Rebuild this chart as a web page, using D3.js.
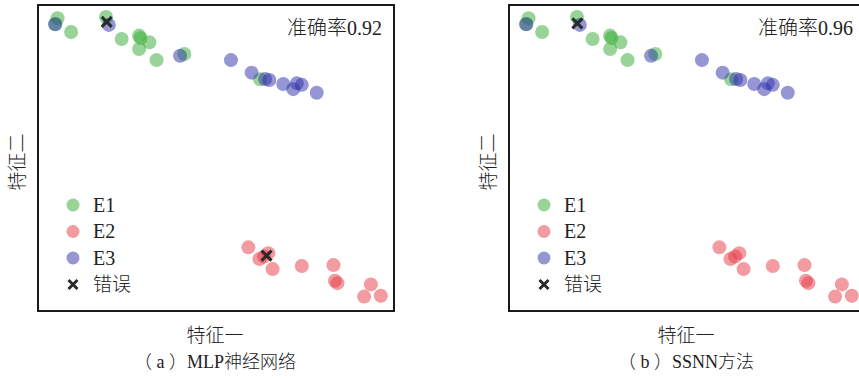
<!DOCTYPE html>
<html lang="en">
<head>
<meta charset="utf-8">
<script src="https://cdn.jsdelivr.net/npm/d3@7/dist/d3.min.js"></script>
<style>
  html, body { margin: 0; padding: 0; background: #fff; }
  svg { display: block; }
  .lat { font-family: "Liberation Serif", "DejaVu Serif", serif; }
  .cjk { font-family: "Noto Sans CJK SC", sans-serif; font-weight: 300; }
</style>
</head>
<body>
<svg id="chart" width="859" height="378"></svg>
<script>
// Two-dimensional feature embedding of the three classes (shared by both panels)
const e1X = [0.55, 0.49, 0.93, 1.91, 2.35, 2.84, 2.88, 3.13, 2.84, 3.33, 4.11, 6.24];
const e1Y = [9.57, 9.38, 9.12, 9.61, 8.89, 9.00, 8.92, 8.78, 8.56, 8.20, 8.40, 7.57];

const e2X = [5.91, 6.22, 6.47, 6.35, 6.59, 7.41, 8.30, 8.34, 8.41, 9.35, 9.16, 9.63];
const e2Y = [2.08, 1.70, 1.89, 1.78, 1.37, 1.47, 1.50, 0.99, 0.91, 0.87, 0.47, 0.50];

const e3X = [0.48, 1.99, 3.99, 5.42, 6.00, 6.38, 6.50, 6.89, 7.27, 7.41, 7.17, 7.83];
const e3Y = [9.37, 9.35, 8.34, 8.20, 7.79, 7.58, 7.55, 7.42, 7.44, 7.39, 7.25, 7.13];

// Misclassified samples per method
const errMlpX = [1.93, 6.42];
const errMlpY = [9.45, 1.81];
const errSsnnX = [1.92];
const errSsnnY = [9.40];

const panelCaptions = ["（ a ）MLP神经网络", "（ b ）SSNN方法"];
const panelAccuracy = ["准确率0.92", "准确率0.96"];
const classNames = ["E1", "E2", "E3"];
const errorName = "错误";
const xLabel = "特征一";
const yLabel = "特征二";

const classColors = ["rgb(50,170,50)", "rgb(230,55,65)", "rgb(45,45,170)"];

const svg = d3.select("#chart");
const W = 356, H = 306;
const panelX = [38, 509];
const panelY = 5;

const x = d3.scaleLinear().domain([0, 10]).range([0, W]);
const y = d3.scaleLinear().domain([0, 10]).range([H, 0]);

const classes = [
  { xs: e1X, ys: e1Y },
  { xs: e2X, ys: e2Y },
  { xs: e3X, ys: e3Y }
];
const errors = [
  { xs: errMlpX, ys: errMlpY },
  { xs: errSsnnX, ys: errSsnnY }
];

const crossPath = s => `M${-s},${-s}L${s},${s}M${-s},${s}L${s},${-s}`;

// Writes a string as runs of tspans so Latin and CJK glyphs get their own fonts
function richText(sel, str) {
  sel.attr("fill", "#222");
  const runs = str.match(/[\u2E80-\u9FFF\uFF00-\uFFEF]+|[^\u2E80-\u9FFF\uFF00-\uFFEF]+/g) || [];
  runs.forEach(r => {
    const isCjk = /[\u2E80-\u9FFF\uFF00-\uFFEF]/.test(r);
    sel.append("tspan").attr("class", isCjk ? "cjk" : "lat").text(r);
  });
  return sel;
}

panelX.forEach((px, p) => {
  const g = svg.append("g").attr("transform", `translate(${px},${panelY})`);

  // scatter of each class
  classes.forEach((c, ci) => {
    g.append("g").selectAll("circle")
      .data(c.xs.map((v, i) => [v, c.ys[i]]))
      .join("circle")
      .attr("cx", d => x(d[0]))
      .attr("cy", d => y(d[1]))
      .attr("r", 7)
      .attr("fill", classColors[ci])
      .attr("fill-opacity", 0.5);
  });

  // misclassified markers
  const e = errors[p];
  g.append("g").selectAll("path")
    .data(e.xs.map((v, i) => [v, e.ys[i]]))
    .join("path")
    .attr("transform", d => `translate(${x(d[0])},${y(d[1])})`)
    .attr("d", crossPath(5))
    .attr("stroke", "#2a2a2a")
    .attr("stroke-width", 3);

  // frame
  g.append("rect")
    .attr("x", 0).attr("y", 0).attr("width", W).attr("height", H)
    .attr("fill", "none").attr("stroke", "#1a1a1a").attr("stroke-width", 2);

  // accuracy
  richText(g.append("text")
    .attr("x", W - 12).attr("y", 30)
    .attr("text-anchor", "end")
    .attr("font-size", 20), panelAccuracy[p]);

  // legend
  const lg = g.append("g").attr("transform", "translate(35,200)");
  classNames.forEach((name, i) => {
    lg.append("circle")
      .attr("cx", 0).attr("cy", i * 26.5).attr("r", 6.5)
      .attr("fill", classColors[i]).attr("fill-opacity", 0.5);
    richText(lg.append("text")
      .attr("x", 20).attr("y", i * 26.5 + 6.5)
      .attr("font-size", 20), name);
  });
  lg.append("path")
    .attr("transform", `translate(0,${3 * 26.5})`)
    .attr("d", crossPath(4.5))
    .attr("stroke", "#2a2a2a").attr("stroke-width", 3);
  richText(lg.append("text")
    .attr("x", 20).attr("y", 3 * 26.5 + 6.5)
    .attr("font-size", 19), errorName);

  // axis labels
  richText(g.append("text")
    .attr("x", W / 2 - 1).attr("y", H + 31)
    .attr("text-anchor", "middle")
    .attr("font-size", 19), xLabel);
  richText(g.append("text")
    .attr("transform", `translate(-14,${H / 2 + 4}) rotate(-90)`)
    .attr("text-anchor", "middle")
    .attr("font-size", 19), yLabel);

  // caption
  richText(g.append("text")
    .attr("x", W / 2 - 1).attr("y", H + 57)
    .attr("text-anchor", "middle")
    .attr("font-size", 18), panelCaptions[p]);
});
</script>
</body>
</html>
